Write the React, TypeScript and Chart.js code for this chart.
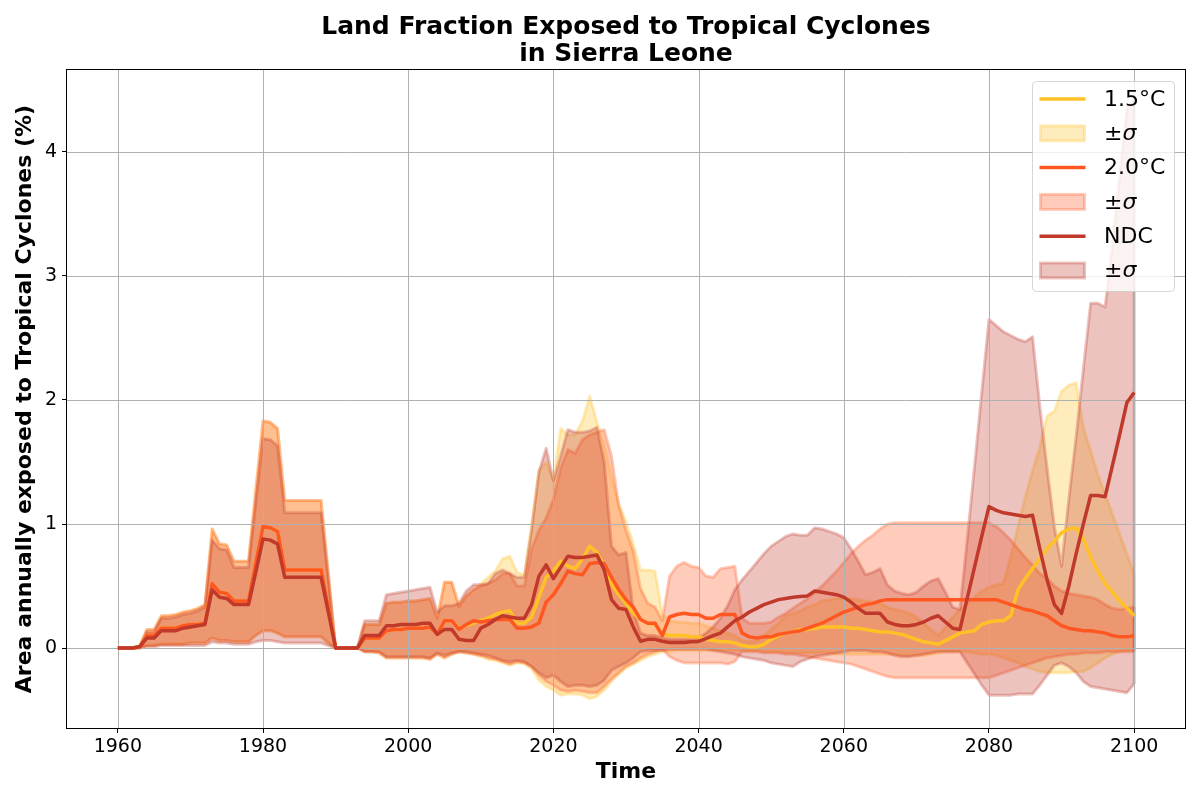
import React, { useEffect, useRef } from 'react';
import { Chart, registerables } from 'chart.js';

Chart.register(...registerables);

const FIRST_YEAR = 1960;
const TITLE_LINES = ['Land Fraction Exposed to Tropical Cyclones', 'in Sierra Leone'];
const X_LABEL = 'Time';
const Y_LABEL = 'Area annually exposed to Tropical Cyclones (%)';
const X_TICKS = [1960, 1980, 2000, 2020, 2040, 2060, 2080, 2100];
const Y_TICKS = [0, 1, 2, 3, 4];
const X_MIN = 1953;
const X_MAX = 2107;
const Y_MIN = -0.645;
const Y_MAX = 4.661;

// ---- 1.5°C ----
const mean15 = [
  0, 0, 0, 0.01, 0.1, 0.1, 0.16, 0.16, 0.16, 0.18,
  0.19, 0.19, 0.2, 0.52, 0.45, 0.44, 0.38, 0.38, 0.38, 0.68,
  0.98, 0.97, 0.94, 0.63, 0.63, 0.63, 0.63, 0.63, 0.63, 0.32,
  0, 0, 0, 0, 0.08, 0.08, 0.08, 0.14, 0.15, 0.15,
  0.16, 0.16, 0.16, 0.17, 0.11, 0.22, 0.22, 0.16, 0.18, 0.2,
  0.22, 0.24, 0.27, 0.29, 0.3, 0.2, 0.2, 0.25, 0.41, 0.57,
  0.62, 0.7, 0.66, 0.64, 0.72, 0.82, 0.77, 0.66, 0.52, 0.43,
  0.36, 0.28, 0.23, 0.2, 0.19, 0.12, 0.1, 0.1, 0.1, 0.09,
  0.09, 0.07, 0.06, 0.05, 0.05, 0.04, 0.02, 0.01, 0.01, 0.03,
  0.07, 0.1, 0.12, 0.13, 0.15, 0.15, 0.16, 0.17, 0.17, 0.17,
  0.17, 0.16, 0.16, 0.15, 0.14, 0.13, 0.13, 0.12, 0.11, 0.09,
  0.07, 0.05, 0.04, 0.03, 0.06, 0.09, 0.12, 0.13, 0.14, 0.19,
  0.21, 0.22, 0.22, 0.26, 0.47, 0.56, 0.64, 0.72, 0.8, 0.86,
  0.93, 0.96, 0.97, 0.88, 0.73, 0.62, 0.52, 0.45, 0.38, 0.32,
  0.26,
];
const lo15 = [
  0, 0, 0, 0, 0.02, 0.02, 0.03, 0.03, 0.03, 0.03,
  0.04, 0.04, 0.04, 0.08, 0.06, 0.06, 0.05, 0.05, 0.05, 0.1,
  0.14, 0.14, 0.12, 0.09, 0.09, 0.09, 0.09, 0.09, 0.09, 0.04,
  0, 0, 0, 0, -0.03, -0.03, -0.04, -0.08, -0.08, -0.08,
  -0.08, -0.08, -0.08, -0.09, -0.05, -0.08, -0.05, -0.03, -0.04, -0.05,
  -0.07, -0.09, -0.1, -0.12, -0.14, -0.12, -0.13, -0.17, -0.26, -0.31,
  -0.34, -0.38, -0.37, -0.37, -0.38, -0.41, -0.39, -0.34, -0.27, -0.21,
  -0.16, -0.13, -0.1, -0.07, -0.05, -0.03, -0.03, -0.02, -0.02, -0.02,
  -0.02, -0.02, -0.02, -0.02, -0.02, -0.02, -0.02, -0.02, -0.02, -0.03,
  -0.03, -0.03, -0.04, -0.04, -0.04, -0.04, -0.04, -0.04, -0.04, -0.05,
  -0.05, -0.05, -0.05, -0.05, -0.05, -0.05, -0.05, -0.05, -0.06, -0.06,
  -0.06, -0.06, -0.05, -0.04, -0.03, -0.03, -0.03, -0.03, -0.04, -0.05,
  -0.05, -0.06, -0.08, -0.1, -0.12, -0.15, -0.17, -0.19, -0.2, -0.2,
  -0.2, -0.2, -0.19, -0.19, -0.16, -0.12, -0.08, -0.05, -0.03, -0.02,
  -0.02,
];
const hi15 = [
  0, 0, 0, 0.01, 0.15, 0.15, 0.26, 0.26, 0.27, 0.29,
  0.3, 0.32, 0.35, 0.96, 0.84, 0.83, 0.7, 0.7, 0.7, 1.27,
  1.83, 1.82, 1.77, 1.19, 1.19, 1.19, 1.19, 1.19, 1.19, 0.6,
  0, 0, 0, 0, 0.19, 0.19, 0.19, 0.36, 0.37, 0.37,
  0.38, 0.38, 0.39, 0.4, 0.24, 0.53, 0.53, 0.35, 0.42, 0.47,
  0.52, 0.57, 0.62, 0.72, 0.74, 0.61, 0.59, 1.0, 1.43, 1.5,
  1.35, 1.77, 1.72, 1.72, 1.83, 2.03, 1.82, 1.65, 1.38, 1.16,
  1.02, 0.84, 0.63, 0.63, 0.62, 0.27, 0.22, 0.21, 0.21, 0.2,
  0.2, 0.18, 0.16, 0.14, 0.12, 0.1, 0.06, 0.05, 0.06, 0.1,
  0.15, 0.2, 0.26, 0.28, 0.3, 0.33, 0.35, 0.38, 0.39, 0.4,
  0.4, 0.4, 0.39, 0.38, 0.37, 0.36, 0.33, 0.31, 0.3, 0.28,
  0.25, 0.2, 0.15, 0.1, 0.17, 0.25, 0.31, 0.36, 0.41, 0.46,
  0.49, 0.51, 0.52, 0.74, 0.98, 1.22, 1.43, 1.62, 1.87, 1.91,
  2.07, 2.12, 2.14, 1.78, 1.59, 1.4, 1.24, 1.08, 0.92, 0.76,
  0.6,
];

// ---- 2.0°C ----
const mean20 = [
  0, 0, 0, 0.01, 0.1, 0.1, 0.16, 0.16, 0.16, 0.18,
  0.19, 0.19, 0.2, 0.52, 0.45, 0.44, 0.38, 0.38, 0.38, 0.68,
  0.98, 0.97, 0.94, 0.63, 0.63, 0.63, 0.63, 0.63, 0.63, 0.32,
  0, 0, 0, 0, 0.08, 0.08, 0.08, 0.14, 0.15, 0.15,
  0.16, 0.16, 0.16, 0.17, 0.11, 0.22, 0.22, 0.15, 0.19, 0.22,
  0.21, 0.22, 0.23, 0.23, 0.23, 0.16, 0.16, 0.17, 0.2, 0.37,
  0.43, 0.52, 0.62, 0.6, 0.59, 0.68, 0.69, 0.68, 0.57, 0.47,
  0.39, 0.33, 0.23, 0.2, 0.2, 0.1, 0.25, 0.27, 0.28, 0.27,
  0.27, 0.24, 0.24, 0.27, 0.27, 0.27, 0.12, 0.09, 0.08, 0.09,
  0.09, 0.11, 0.12, 0.13, 0.14, 0.16, 0.18, 0.2, 0.23, 0.26,
  0.29, 0.31, 0.33, 0.35, 0.36, 0.38, 0.39, 0.39, 0.39, 0.39,
  0.39, 0.39, 0.39, 0.39, 0.39, 0.39, 0.39, 0.39, 0.39, 0.39,
  0.39, 0.39, 0.37, 0.35, 0.33, 0.31, 0.3, 0.28, 0.26, 0.22,
  0.18, 0.16, 0.15, 0.14, 0.14, 0.13, 0.12, 0.1, 0.09, 0.09,
  0.1,
];
const lo20 = [
  0, 0, 0, 0, 0.02, 0.02, 0.03, 0.03, 0.03, 0.03,
  0.04, 0.04, 0.04, 0.08, 0.06, 0.06, 0.05, 0.05, 0.05, 0.1,
  0.14, 0.14, 0.12, 0.09, 0.09, 0.09, 0.09, 0.09, 0.09, 0.04,
  0, 0, 0, 0, -0.03, -0.03, -0.04, -0.08, -0.08, -0.08,
  -0.08, -0.08, -0.08, -0.09, -0.05, -0.08, -0.05, -0.03, -0.04, -0.05,
  -0.06, -0.08, -0.09, -0.11, -0.13, -0.11, -0.12, -0.15, -0.22, -0.27,
  -0.3, -0.34, -0.35, -0.34, -0.35, -0.36, -0.36, -0.31, -0.25, -0.2,
  -0.15, -0.12, -0.08, -0.05, -0.03, -0.01, -0.07, -0.1, -0.12, -0.12,
  -0.12, -0.12, -0.12, -0.12, -0.13, -0.11, -0.03, -0.03, -0.03, -0.04,
  -0.04, -0.04, -0.05, -0.05, -0.06, -0.07, -0.08, -0.09, -0.1, -0.11,
  -0.12, -0.13, -0.15, -0.17, -0.19, -0.21, -0.23, -0.24, -0.24, -0.24,
  -0.24, -0.24, -0.24, -0.24, -0.24, -0.24, -0.24, -0.24, -0.24, -0.24,
  -0.24, -0.22, -0.2, -0.18, -0.16, -0.14, -0.12, -0.1, -0.08, -0.07,
  -0.06, -0.05, -0.05, -0.04, -0.04, -0.04, -0.03, -0.03, -0.03, -0.03,
  -0.03,
];
const hi20 = [
  0, 0, 0, 0.01, 0.15, 0.15, 0.26, 0.26, 0.27, 0.29,
  0.3, 0.32, 0.35, 0.96, 0.84, 0.83, 0.7, 0.7, 0.7, 1.27,
  1.83, 1.82, 1.77, 1.19, 1.19, 1.19, 1.19, 1.19, 1.19, 0.6,
  0, 0, 0, 0, 0.19, 0.19, 0.19, 0.36, 0.37, 0.37,
  0.38, 0.38, 0.39, 0.4, 0.24, 0.53, 0.53, 0.33, 0.42, 0.47,
  0.5, 0.52, 0.55, 0.6, 0.6, 0.5, 0.5, 0.8, 0.95, 1.05,
  1.2, 1.45, 1.6, 1.57, 1.68, 1.72, 1.74, 1.76, 1.55, 1.15,
  0.95, 0.78, 0.48, 0.36, 0.33, 0.22, 0.58, 0.66, 0.69, 0.66,
  0.65, 0.58, 0.57, 0.64, 0.65, 0.66, 0.24, 0.2, 0.2, 0.2,
  0.21, 0.25, 0.28, 0.32, 0.36, 0.4, 0.45, 0.5, 0.56, 0.62,
  0.69, 0.76, 0.82, 0.87, 0.91, 0.96, 1.0, 1.01, 1.01, 1.01,
  1.01, 1.01, 1.01, 1.01, 1.01, 1.01, 1.01, 1.01, 1.01, 1.01,
  1.01, 0.98, 0.93, 0.87, 0.8, 0.73, 0.67, 0.6, 0.56, 0.5,
  0.46, 0.44, 0.43, 0.42, 0.41, 0.39, 0.35, 0.32, 0.31, 0.32,
  0.33,
];

// ---- NDC ----
const meanNdc = [
  0, 0, 0, 0.01, 0.08, 0.08, 0.14, 0.14, 0.14, 0.16,
  0.17, 0.18, 0.19, 0.47, 0.41, 0.4, 0.35, 0.35, 0.35, 0.61,
  0.88, 0.87, 0.84, 0.57, 0.57, 0.57, 0.57, 0.57, 0.57, 0.29,
  0, 0, 0, 0, 0.1, 0.1, 0.1, 0.18, 0.18, 0.19,
  0.19, 0.19, 0.2, 0.2, 0.11, 0.15, 0.15, 0.07, 0.06, 0.06,
  0.16, 0.19, 0.23, 0.26, 0.25, 0.24, 0.24, 0.35, 0.58, 0.67,
  0.56, 0.65, 0.74, 0.73, 0.73, 0.74, 0.75, 0.63, 0.39, 0.32,
  0.31, 0.17, 0.055, 0.07, 0.07, 0.055, 0.045, 0.045, 0.045, 0.05,
  0.053, 0.075, 0.1, 0.12, 0.17, 0.22, 0.25, 0.29, 0.32, 0.35,
  0.37, 0.39, 0.4, 0.41, 0.415, 0.42, 0.46, 0.45, 0.44, 0.43,
  0.41, 0.37, 0.32, 0.28, 0.28, 0.28, 0.21, 0.19, 0.18, 0.18,
  0.19, 0.21, 0.24, 0.26, 0.21, 0.16, 0.15, 0.4, 0.65, 0.9,
  1.14, 1.11, 1.09, 1.08, 1.07, 1.06, 1.07, 0.8, 0.55, 0.35,
  0.28, 0.5, 0.76, 1.0, 1.23, 1.23, 1.22, 1.47, 1.72, 1.98,
  2.06,
];
const loNdc = [
  0, 0, 0, 0, 0.01, 0.01, 0.02, 0.02, 0.02, 0.02,
  0.02, 0.02, 0.02, 0.05, 0.04, 0.04, 0.03, 0.03, 0.03, 0.05,
  0.06, 0.06, 0.05, 0.04, 0.04, 0.04, 0.04, 0.04, 0.04, 0.02,
  0, 0, 0, 0, -0.03, -0.03, -0.03, -0.07, -0.07, -0.07,
  -0.07, -0.07, -0.07, -0.08, -0.04, -0.06, -0.04, -0.03, -0.03, -0.04,
  -0.05, -0.06, -0.08, -0.1, -0.11, -0.1, -0.11, -0.15, -0.2, -0.24,
  -0.22, -0.27, -0.31, -0.3, -0.3, -0.31, -0.3, -0.26, -0.18, -0.15,
  -0.12, -0.08, -0.03, -0.02, -0.02, -0.02, -0.01, -0.01, -0.01, -0.01,
  -0.01, -0.01, -0.02, -0.03, -0.04, -0.05, -0.07, -0.08, -0.09, -0.1,
  -0.12, -0.13, -0.14, -0.15, -0.11, -0.09, -0.07, -0.06, -0.05, -0.04,
  -0.03, -0.02, -0.02, -0.02, -0.03, -0.03, -0.04, -0.06, -0.07, -0.07,
  -0.06, -0.05, -0.04, -0.03, -0.03, -0.03, -0.03, -0.12, -0.21, -0.3,
  -0.38, -0.38, -0.38, -0.38, -0.37, -0.37, -0.37, -0.3, -0.22, -0.14,
  -0.12, -0.15, -0.2, -0.27, -0.31, -0.32, -0.33, -0.34, -0.35, -0.36,
  -0.29,
];
const hiNdc = [
  0, 0, 0, 0.01, 0.13, 0.13, 0.24, 0.24, 0.25, 0.27,
  0.28, 0.3, 0.33, 0.87, 0.8, 0.79, 0.65, 0.65, 0.65, 1.17,
  1.69, 1.68, 1.63, 1.09, 1.09, 1.09, 1.09, 1.09, 1.09, 0.55,
  0, 0, 0, 0, 0.22, 0.22, 0.22, 0.43, 0.44, 0.45,
  0.46, 0.47, 0.48, 0.49, 0.29, 0.34, 0.34, 0.36, 0.46, 0.51,
  0.51, 0.52, 0.6, 0.63, 0.6, 0.57, 0.57, 0.95, 1.42, 1.61,
  1.35, 1.55, 1.76, 1.74, 1.74, 1.75, 1.78, 1.5, 0.82, 0.75,
  0.77, 0.3, 0.12, 0.1, 0.1, 0.08, 0.07, 0.07, 0.07, 0.07,
  0.08, 0.12, 0.17, 0.24, 0.34, 0.47, 0.55, 0.62, 0.69, 0.76,
  0.82, 0.86, 0.9, 0.92, 0.91, 0.91, 0.97, 0.96, 0.94, 0.92,
  0.89, 0.8, 0.7, 0.59, 0.61, 0.64, 0.51, 0.46, 0.44, 0.43,
  0.45, 0.5, 0.54, 0.56, 0.45, 0.33, 0.31, 0.87, 1.46, 2.06,
  2.65, 2.6, 2.55, 2.52, 2.49, 2.47, 2.51, 1.95, 1.45, 0.98,
  0.66, 1.2, 1.7, 2.25, 2.78, 2.78, 2.75, 3.25, 3.8, 4.35,
  4.42,
];

const COLOR_15 = [255, 193, 37];
const COLOR_20 = [255, 87, 34];
const COLOR_NDC = [192, 57, 43];
const BAND_ALPHA = 0.3;
const FONT = '"DejaVu Sans"';

const rgba = (c: number[], a: number) => `rgba(${c[0]},${c[1]},${c[2]},${a})`;

const LEGEND_ITEMS = [
  { kind: 'line', color: COLOR_15, text: '1.5°C' },
  { kind: 'band', color: COLOR_15, text: '±σ' },
  { kind: 'line', color: COLOR_20, text: '2.0°C' },
  { kind: 'band', color: COLOR_20, text: '±σ' },
  { kind: 'line', color: COLOR_NDC, text: 'NDC' },
  { kind: 'band', color: COLOR_NDC, text: '±σ' },
];

const BAND_HI_INDICES = [1, 3, 5];
const LAST_BAND_INDEX = 5;
const LINE_W = 3.5;
const BAND_EDGE_W = 3;

const decorPlugin = {
  id: 'decor',
  afterDatasetDraw(chart: any, args: any) {
    const ctx = chart.ctx;
    const { left, right, top, bottom } = chart.chartArea;
    const xs = chart.scales.x;
    const ys = chart.scales.y;
    if (BAND_HI_INDICES.includes(args.index)) {
      // closing edge of the band polygon at the last year
      const hiDs = chart.data.datasets[args.index];
      const loDs = chart.data.datasets[args.index - 1];
      const n = hiDs.data.length - 1;
      ctx.save();
      ctx.beginPath();
      ctx.rect(left, top, right - left, bottom - top);
      ctx.clip();
      ctx.strokeStyle = hiDs.borderColor;
      ctx.lineWidth = hiDs.borderWidth;
      ctx.beginPath();
      ctx.moveTo(xs.getPixelForValue(hiDs.data[n].x), ys.getPixelForValue(hiDs.data[n].y));
      ctx.lineTo(xs.getPixelForValue(loDs.data[n].x), ys.getPixelForValue(loDs.data[n].y));
      ctx.stroke();
      ctx.restore();
    }
    if (args.index === LAST_BAND_INDEX) {
      // grid lines above the bands, below the mean lines
      ctx.save();
      ctx.strokeStyle = '#b0b0b0';
      ctx.lineWidth = 1;
      ctx.beginPath();
      X_TICKS.forEach((v) => {
        const px = Math.round(xs.getPixelForValue(v)) + 0.5;
        ctx.moveTo(px, top);
        ctx.lineTo(px, bottom);
      });
      Y_TICKS.forEach((v) => {
        const py = Math.round(ys.getPixelForValue(v)) + 0.5;
        ctx.moveTo(left, py);
        ctx.lineTo(right, py);
      });
      ctx.stroke();
      ctx.restore();
    }
  },
  afterDatasetsDraw(chart: any) {
    const ctx = chart.ctx;
    const { left, right, top, bottom } = chart.chartArea;
    ctx.save();
    ctx.strokeStyle = '#000';
    ctx.lineWidth = 1;
    ctx.strokeRect(Math.round(left) - 0.5, Math.round(top) - 0.5, Math.round(right - left) + 1, Math.round(bottom - top) + 1);
    ctx.restore();
  },
  afterDraw(chart: any) {
    const ctx = chart.ctx;
    const { right, top } = chart.chartArea;
    const fs = 22;
    const boxW = 142;
    const boxH = 210;
    const boxX = right - 11 - boxW;
    const boxY = top + 11;
    ctx.save();
    ctx.beginPath();
    ctx.roundRect(boxX + 0.5, boxY + 0.5, boxW, boxH, 4);
    ctx.fillStyle = 'rgba(255,255,255,0.8)';
    ctx.fill();
    ctx.strokeStyle = 'rgba(204,204,204,0.8)';
    ctx.lineWidth = 1;
    ctx.stroke();
    const hx0 = boxX + 7.5;
    const hx1 = hx0 + 46;
    const tx = boxX + 72;
    LEGEND_ITEMS.forEach((it, i) => {
      const cy = boxY + 18 + i * 34.3;
      if (it.kind === 'line') {
        ctx.strokeStyle = rgba(it.color, 1);
        ctx.lineWidth = LINE_W;
        ctx.beginPath();
        ctx.moveTo(hx0, cy);
        ctx.lineTo(hx1, cy);
        ctx.stroke();
      } else {
        ctx.fillStyle = rgba(it.color, BAND_ALPHA);
        ctx.strokeStyle = rgba(it.color, BAND_ALPHA);
        ctx.lineWidth = BAND_EDGE_W;
        ctx.fillRect(hx0 + 1, cy - 7.5, hx1 - hx0 - 2, 15);
        ctx.strokeRect(hx0 + 1, cy - 7.5, hx1 - hx0 - 2, 15);
      }
      ctx.fillStyle = '#000';
      ctx.textBaseline = 'middle';
      ctx.textAlign = 'left';
      if (it.text === '±σ') {
        ctx.font = `${fs}px ${FONT}`;
        ctx.fillText('±', tx, cy + 1);
        const w = ctx.measureText('±').width;
        ctx.font = `italic ${fs}px ${FONT}`;
        ctx.fillText('σ', tx + w, cy + 1);
      } else {
        ctx.font = `${fs}px ${FONT}`;
        ctx.fillText(it.text, tx, cy + 1);
      }
    });
    ctx.restore();
  },
};

export default function App() {
  const ref = useRef<HTMLCanvasElement | null>(null);

  useEffect(() => {
    document.body.style.margin = '0';
    const canvas = ref.current;
    if (!canvas) return;
    const years = mean15.map((_, i) => FIRST_YEAR + i);
    const toPts = (arr: number[]) => arr.map((v, i) => ({ x: years[i], y: v }));

    const bandLo = (arr: number[], c: number[], order: number) => ({
      data: toPts(arr),
      borderColor: rgba(c, BAND_ALPHA),
      borderWidth: BAND_EDGE_W,
      pointRadius: 0,
      fill: false,
      tension: 0,
      borderJoinStyle: 'round',
      order,
    });
    const bandHi = (arr: number[], c: number[], order: number) => ({
      data: toPts(arr),
      borderColor: rgba(c, BAND_ALPHA),
      backgroundColor: rgba(c, BAND_ALPHA),
      borderWidth: BAND_EDGE_W,
      pointRadius: 0,
      fill: '-1',
      tension: 0,
      borderJoinStyle: 'round',
      order,
    });
    const meanLine = (arr: number[], c: number[], order: number) => ({
      data: toPts(arr),
      borderColor: rgba(c, 1),
      borderWidth: LINE_W,
      pointRadius: 0,
      fill: false,
      tension: 0,
      borderJoinStyle: 'round',
      order,
    });

    const chart = new Chart(canvas, {
      type: 'line',
      data: {
        datasets: [
          bandLo(lo15, COLOR_15, 9),
          bandHi(hi15, COLOR_15, 8),
          bandLo(lo20, COLOR_20, 7),
          bandHi(hi20, COLOR_20, 6),
          bandLo(loNdc, COLOR_NDC, 5),
          bandHi(hiNdc, COLOR_NDC, 4),
          meanLine(mean15, COLOR_15, 3),
          meanLine(mean20, COLOR_20, 2),
          meanLine(meanNdc, COLOR_NDC, 1),
        ] as any,
      },
      options: {
        responsive: false,
        animation: false,
        devicePixelRatio: 1,
        events: [],
        layout: { padding: { left: 0, right: 15, top: 0, bottom: 0 } },
        plugins: {
          legend: { display: false },
          tooltip: { enabled: false },
          title: {
            display: true,
            text: TITLE_LINES,
            fullSize: false,
            color: '#000',
            font: { family: FONT, size: 25, weight: 'bold', lineHeight: 1.08 },
            padding: { top: 13.5, bottom: 2.5 },
          },
        },
        scales: {
          x: {
            type: 'linear',
            min: X_MIN,
            max: X_MAX,
            afterBuildTicks: (axis: any) => {
              axis.ticks = X_TICKS.map((v) => ({ value: v }));
            },
            afterFit: (axis: any) => {
              axis.height = 72;
            },
            ticks: {
              color: '#000',
              font: { family: FONT, size: 19 },
              padding: 3,
              maxRotation: 0,
              autoSkip: false,
              callback: (v: any) => String(v),
            },
            grid: { drawOnChartArea: false, drawTicks: true, tickLength: 5, tickColor: '#000', tickWidth: 1 },
            border: { display: false },
            title: {
              display: true,
              text: X_LABEL,
              color: '#000',
              font: { family: FONT, size: 22, weight: 'bold', lineHeight: 1.2 },
              padding: { top: 0, bottom: 15 },
            },
          },
          y: {
            type: 'linear',
            min: Y_MIN,
            max: Y_MAX,
            afterBuildTicks: (axis: any) => {
              axis.ticks = Y_TICKS.map((v) => ({ value: v }));
            },
            afterFit: (axis: any) => {
              axis.width = 67;
            },
            ticks: {
              color: '#000',
              font: { family: FONT, size: 19 },
              padding: 5,
              autoSkip: false,
              callback: (v: any) => String(v),
            },
            grid: { drawOnChartArea: false, drawTicks: true, tickLength: 5, tickColor: '#000', tickWidth: 1 },
            border: { display: false },
            title: {
              display: true,
              text: Y_LABEL,
              color: '#000',
              font: { family: FONT, size: 22, weight: 'bold', lineHeight: 1.2 },
              padding: { top: 12, bottom: 0 },
            },
          },
        },
      } as any,
      plugins: [decorPlugin as any],
    });

    return () => {
      chart.destroy();
    };
  }, []);

  return (
    <div style={{ width: 1200, height: 800 }}>
      <canvas ref={ref} width={1200} height={800} style={{ display: 'block' }} />
    </div>
  );
}
